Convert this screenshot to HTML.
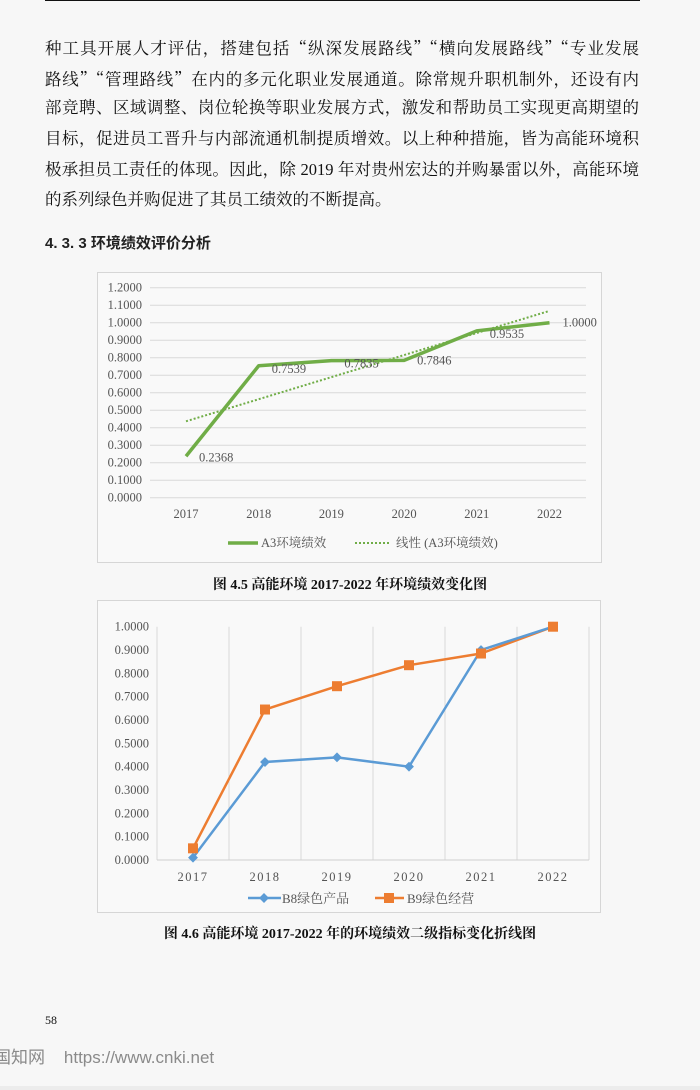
<!DOCTYPE html>
<html><head><meta charset="utf-8">
<style>
html,body{margin:0;padding:0;}
body{width:700px;height:1090px;background:#f7f7f7;position:relative;overflow:hidden;font-family:"Liberation Serif","Noto Serif CJK SC",serif;color:#111;}
.ln{position:absolute;left:45px;width:594px;font-size:16.5px;line-height:20px;text-align:justify;text-align-last:justify;white-space:nowrap;}
.ln.last{text-align-last:left;}
.q{font-family:"Noto Serif CJK SC",serif;}
.abs{position:absolute;}
.cap{position:absolute;left:0;width:700px;text-align:center;font-size:14px;font-weight:bold;font-family:"Liberation Serif","Noto Serif CJK SC",serif;}
svg text{font-family:"Liberation Serif","Noto Serif CJK SC",serif;}
</style></head><body>
<div class="abs" style="left:45px;top:0;width:595px;height:1px;background:#111;"></div>
<div class="ln" style="top:37px;">种工具开展人才评估，搭建包括<span class="q">“</span>纵深发展路线<span class="q">”“</span>横向发展路线<span class="q">”“</span>专业发展</div>
<div class="ln" style="top:68px;">路线<span class="q">”“</span>管理路线<span class="q">”</span>在内的多元化职业发展通道。除常规升职机制外，还设有内</div>
<div class="ln" style="top:98px;">部竞聘、区域调整、岗位轮换等职业发展方式，激发和帮助员工实现更高期望的</div>
<div class="ln" style="top:129px;">目标，促进员工晋升与内部流通机制提质增效。以上种种措施，皆为高能环境积</div>
<div class="ln" style="top:160px;">极承担员工责任的体现。因此，除 2019 年对贵州宏达的并购暴雷以外，高能环境</div>
<div class="ln last" style="top:190px;">的系列绿色并购促进了其员工绩效的不断提高。</div>
<div class="abs" style="left:45px;top:232px;font-size:15px;font-weight:bold;font-family:'Liberation Sans','Noto Sans CJK SC',sans-serif;color:#222;">4. 3. 3 环境绩效评价分析</div>

<svg class="abs" id="c1" style="left:0;top:0" width="700" height="1090"></svg>

<div class="cap" style="top:574px;">图 4.5 高能环境 2017-2022 年环境绩效变化图</div>
<div class="cap" style="top:923px;">图 4.6 高能环境 2017-2022 年的环境绩效二级指标变化折线图</div>
<div class="abs" style="left:45px;top:1013px;font-size:12px;">58</div>
<div class="abs" style="left:-6px;top:1043px;font-size:17px;color:#8a8a8a;font-family:'Liberation Sans','Noto Sans CJK SC',sans-serif;">国知网&nbsp;&nbsp;&nbsp;&nbsp;https://www.cnki.net</div>
<div class="abs" style="left:0;top:1086px;width:700px;height:4px;background:#ececec;"></div>

<script>
const years = ["2017","2018","2019","2020","2021","2022"];
const a3Values = [0.2368,0.7539,0.7835,0.7846,0.9535,1.0000];
const a3Labels = ["0.2368","0.7539","0.7835","0.7846","0.9535","1.0000"];
const a3Ticks = ["0.0000","0.1000","0.2000","0.3000","0.4000","0.5000","0.6000","0.7000","0.8000","0.9000","1.0000","1.1000","1.2000"];
const b8Values = [0.01,0.42,0.44,0.40,0.90,1.00];
const b9Values = [0.05,0.645,0.745,0.835,0.885,1.00];
const bTicks = ["0.0000","0.1000","0.2000","0.3000","0.4000","0.5000","0.6000","0.7000","0.8000","0.9000","1.0000"];

const NS="http://www.w3.org/2000/svg";
const svg=document.getElementById('c1');
function mk(tag,attrs,parent){const e=document.createElementNS(NS,tag);for(const k in attrs)e.setAttribute(k,attrs[k]);(parent||svg).appendChild(e);return e;}

/* ---------- Chart 1 ---------- */
const g1=mk('g',{});


const f1=mk('rect',{x:97.5,y:272.5,width:504,height:290,fill:'#f9f9f9',stroke:'#d6d6d6'},g1);


const y1=v=>497.7-v/1.2*210;
const x1=i=>186+i*72.7;
a3Ticks.forEach((t,i)=>{const v=i*0.1;
  const l=mk('line',{x1:150,x2:586,y1:y1(v),y2:y1(v),stroke:'#d9d9d9','stroke-width':1},g1);
  
  
  const tx=mk('text',{x:142,y:y1(v)+4,'text-anchor':'end','font-size':12.5,fill:'#555'},g1);tx.textContent=t;
  
  
});
years.forEach((yr,i)=>{const tx=mk('text',{x:x1(i),y:518,'text-anchor':'middle','font-size':12.5,fill:'#555'},g1);tx.textContent=yr;
  
  });
const n=a3Values.length;let sx=0,sy=0,sxy=0,sxx=0;a3Values.forEach((v,i)=>{sx+=i;sy+=v;sxy+=i*v;sxx+=i*i;});
const slope=(n*sxy-sx*sy)/(n*sxx-sx*sx),icpt=(sy-slope*sx)/n;
const tr=mk('line',{x1:x1(0),y1:y1(icpt),x2:x1(n-1),y2:y1(icpt+slope*(n-1)),stroke:'#70ad47','stroke-width':2,'stroke-dasharray':'2 2'},g1);


const p1=mk('polyline',{points:a3Values.map((v,i)=>x1(i)+','+y1(v)).join(' '),fill:'none',stroke:'#70ad47','stroke-width':3.5,'stroke-linejoin':'round'},g1);


a3Values.forEach((v,i)=>{const tx=mk('text',{x:x1(i)+13,y:y1(v)+(i==0?5:i==3?4:i==5?4:7),'font-size':12.5,fill:'#555'},g1);tx.textContent=a3Labels[i];
  
  });
const lg1=mk('g',{},g1);


mk('line',{x1:228,x2:258,y1:543,y2:543,stroke:'#70ad47','stroke-width':3.5},lg1);
let t=mk('text',{x:261,y:547,'font-size':12.5,fill:'#555'},lg1);t.textContent='A3环境绩效';
const lg2=mk('g',{},g1);


mk('line',{x1:355,x2:390,y1:543,y2:543,stroke:'#70ad47','stroke-width':2,'stroke-dasharray':'2 2'},lg2);
t=mk('text',{x:396,y:547,'font-size':12.5,fill:'#555'},lg2);t.textContent='线性 (A3环境绩效)';

/* ---------- Chart 2 ---------- */
const g2=mk('g',{});


const f2=mk('rect',{x:97.5,y:600.5,width:503,height:312,fill:'#f9f9f9',stroke:'#d6d6d6'},g2);


const y2=v=>860-v*233.3;
const x2=i=>193+i*72;
for(let i=0;i<=6;i++){const x=157+i*72;
  const l=mk('line',{x1:x,x2:x,y1:626.7,y2:860,stroke:'#d9d9d9','stroke-width':1},g2);
  
  }
mk('line',{x1:157,x2:589,y1:860,y2:860,stroke:'#d0d0d0'},g2);
bTicks.forEach((tk,i)=>{const tx=mk('text',{x:149,y:y2(i*0.1)+4,'text-anchor':'end','font-size':12.5,fill:'#555'},g2);tx.textContent=tk;
  
  });
years.forEach((yr,i)=>{const tx=mk('text',{x:x2(i),y:881,'text-anchor':'middle','font-size':12.5,'letter-spacing':'1.5',fill:'#555'},g2);tx.textContent=yr;
  
  });
const p9=mk('polyline',{points:b9Values.map((v,i)=>x2(i)+','+y2(v)).join(' '),fill:'none',stroke:'#ed7d31','stroke-width':2.5},g2);


const p8=mk('polyline',{points:b8Values.map((v,i)=>x2(i)+','+y2(v)).join(' '),fill:'none',stroke:'#5b9bd5','stroke-width':2.5},g2);


b8Values.forEach((v,i)=>{const d=mk('rect',{x:x2(i)-3.5,y:y2(v)-3.5,width:7,height:7,fill:'#5b9bd5',transform:`rotate(45 ${x2(i)} ${y2(v)})`},g2);
  
  });
b9Values.forEach((v,i)=>{const s=mk('rect',{x:x2(i)-5,y:y2(v)-5,width:10,height:10,fill:'#ed7d31'},g2);
  
  });
const lg3=mk('g',{},g2);


mk('line',{x1:248,x2:281,y1:898,y2:898,stroke:'#5b9bd5','stroke-width':2.5},lg3);
mk('rect',{x:260.5,y:894.5,width:7,height:7,fill:'#5b9bd5',transform:'rotate(45 264 898)'},lg3);
t=mk('text',{x:282,y:903,'font-size':13,fill:'#555'},lg3);t.textContent='B8绿色产品';
const lg4=mk('g',{},g2);


mk('line',{x1:375,x2:404,y1:898,y2:898,stroke:'#ed7d31','stroke-width':2.5},lg4);
mk('rect',{x:384,y:893,width:10,height:10,fill:'#ed7d31'},lg4);
t=mk('text',{x:407,y:903,'font-size':13,fill:'#555'},lg4);t.textContent='B9绿色经营';
</script>
</body></html>
